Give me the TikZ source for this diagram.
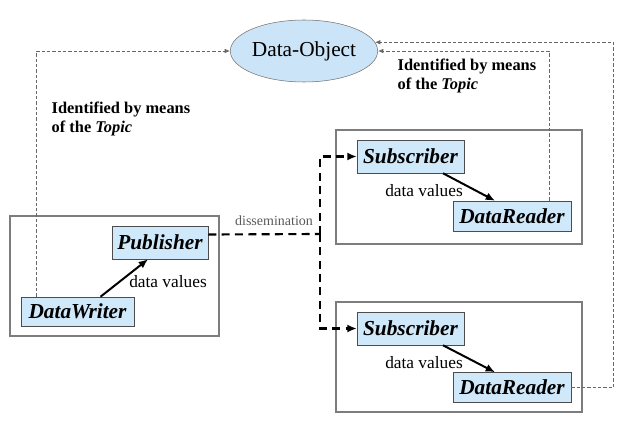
\documentclass[tikz,border=0pt]{standalone}
\usepackage{fontspec}
\setmainfont{Liberation Serif}
\usetikzlibrary{arrows.meta, positioning, shapes.geometric, calc}
\definecolor{boxblue}{RGB}{207,232,250}
\definecolor{ellblue}{RGB}{204,228,248}
\definecolor{frameline}{RGB}{125,125,125}

\begin{document}
\begin{tikzpicture}[
    x=0.75pt, y=-0.75pt,
    entity/.style={draw=black!70, fill=boxblue, inner sep=0pt,
                   font=\fontsize{16}{19}\selectfont\bfseries\itshape},
    group/.style={draw=frameline, line width=0.8pt, inner sep=0pt},
    note/.style={font=\fontsize{12.3}{14.5}\selectfont\bfseries, align=left},
    dv/.style={font=\fontsize{13}{15}\selectfont},
    topic/.style={draw=black!60, dashed, dash pattern=on 2.5pt off 1.5pt,
                  line width=0.6pt, -{Latex[length=4pt, width=3.5pt]}},
    dissem/.style={line width=1.6pt, dash pattern=on 6pt off 4pt},
    flow/.style={line width=1.5pt, -{Latex[length=7pt, width=6pt]}}
  ]
  \useasboundingbox (0,0) rectangle (638,431);

  % group frames
  \node[group, minimum width=156.75pt, minimum height=90pt] (pubgrp) at (114.5,276) {};
  \node[group, minimum width=184.5pt, minimum height=85.5pt] (subgrpA) at (459,187) {};
  \node[group, minimum width=184.5pt, minimum height=82.5pt] (subgrpB) at (459,357) {};

  \node[ellipse, draw=black!55, fill=ellblue, minimum width=102.75pt, minimum height=46.5pt,
        inner sep=0pt, font=\fontsize{16}{19}\selectfont] (obj) at (304,51) {Data-Object};

  \node[entity, minimum width=72pt, minimum height=24.75pt] (pub) at (160,242.5) {Publisher};
  \node[entity, minimum width=84.75pt, minimum height=21.75pt] (writer) at (77.5,311.5) {DataWriter};
  \node[entity, minimum width=80.25pt, minimum height=24.75pt] (subA) at (410.5,156.5) {Subscriber};
  \node[entity, minimum width=88.5pt, minimum height=22.5pt] (readerA) at (512,216) {DataReader};
  \node[entity, minimum width=80.25pt, minimum height=24.75pt] (subB) at (410.5,328.5) {Subscriber};
  \node[entity, minimum width=88.5pt, minimum height=22.5pt] (readerB) at (512,387.5) {DataReader};

  \node[note, anchor=west] (topicL) at (47,119) {Identified by means\\of the \textit{Topic}};
  \node[note, anchor=west] (topicR) at (393,76) {Identified by means\\of the \textit{Topic}};

  \node[dv] (dvpub) at (168,282) {data values};
  \node[dv] (dvA) at (424,191) {data values};
  \node[dv] (dvB) at (424,363) {data values};
  \node[font=\fontsize{10.5}{12}\selectfont, text=black!65] (dislbl) at (274,221) {dissemination};

  % topic links
  \coordinate (wtop) at ($(writer.north west)+(16,0)$);
  \coordinate (rtop) at ($(readerA.north east)+(-22,0)$);
  \draw[topic] (wtop) |- (obj.west);
  \draw[topic] (rtop) |- (obj.east);
  \draw[topic] (readerB.east) -- ++(42,0) |- (obj.7);

  % dissemination
  \coordinate (pubout) at ($(pub.east)+(0,-8)$);
  \coordinate (split) at (320,234);
  \draw[dissem] (pubout) -- (split);
  \draw[dissem, -{Latex[length=7pt, width=6pt]}] (split) |- (subA.west);
  \draw[dissem, -{Latex[length=7pt, width=6pt]}] (split) |- (subB.west);

  % data values
  \draw[flow] ($(writer.north)+(23,0)$) -- ($(pub.south)+(-12,0)$);
  \draw[flow] ($(subA.south)+(32.5,0)$) -- ($(readerA.north)+(-17,0)$);
  \draw[flow] ($(subB.south)+(32.5,0)$) -- ($(readerB.north)+(-17,0)$);
\end{tikzpicture}
\end{document}
